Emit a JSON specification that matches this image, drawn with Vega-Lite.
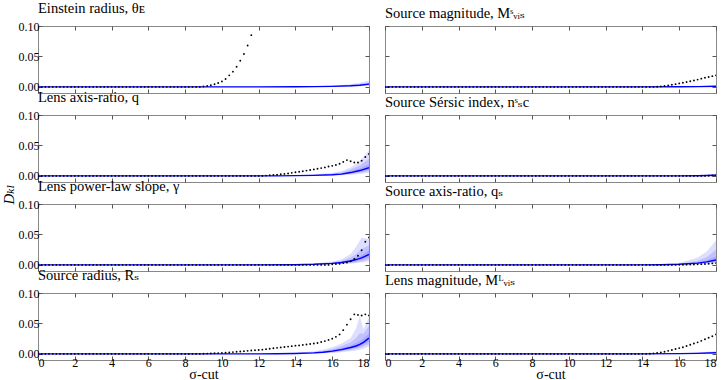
{
"$schema": "https://vega.github.io/schema/vega-lite/v6.json",
"padding": {"left": 0, "top": 0, "right": 0, "bottom": 0},
"background": "white",
"bounds": "flush",
"columns": 2,
"spacing": {"row": 22, "column": 16},
"config": {
  "view": {"stroke": "#888", "strokeWidth": 1},
  "axis": {"labelFont": "Liberation Serif, DejaVu Serif, serif", "labelFontSize": 12, "labelColor": "#000", "tickColor": "#555", "titleFont": "Liberation Serif, DejaVu Serif, serif", "titleFontSize": 14, "titleFontWeight": "normal", "titleColor": "#000", "grid": false},
  "title": {"font": "Liberation Serif, DejaVu Serif, serif", "fontSize": 14.5, "fontWeight": "normal", "anchor": "start", "frame": "group", "offset": 0, "color": "#000"}
},
"datasets": {
"d1": [{"x":0,"d":0},{"x":0.2,"d":0},{"x":0.4,"d":0},{"x":0.6,"d":0},{"x":0.8,"d":0},{"x":1,"d":0},{"x":1.2,"d":0},{"x":1.4,"d":0},{"x":1.6,"d":0},{"x":1.8,"d":0},{"x":2,"d":0},{"x":2.2,"d":0},{"x":2.4,"d":0},{"x":2.6,"d":0},{"x":2.8,"d":0},{"x":3,"d":0},{"x":3.2,"d":0},{"x":3.4,"d":0},{"x":3.6,"d":0},{"x":3.8,"d":0},{"x":4,"d":0},{"x":4.2,"d":0},{"x":4.4,"d":0},{"x":4.6,"d":0},{"x":4.8,"d":0},{"x":5,"d":0},{"x":5.2,"d":0},{"x":5.4,"d":0},{"x":5.6,"d":0},{"x":5.8,"d":0},{"x":6,"d":0},{"x":6.2,"d":0},{"x":6.4,"d":0},{"x":6.6,"d":0},{"x":6.8,"d":0},{"x":7,"d":0},{"x":7.2,"d":0},{"x":7.4,"d":0},{"x":7.6,"d":0},{"x":7.8,"d":0},{"x":8,"d":0},{"x":8.2,"d":0},{"x":8.4,"d":0},{"x":8.6,"d":0},{"x":8.8,"d":0},{"x":9,"d":0.0006},{"x":9.2,"d":0.0016},{"x":9.4,"d":0.0027},{"x":9.6,"d":0.0043},{"x":9.8,"d":0.0064},{"x":10,"d":0.009},{"x":10.2,"d":0.013},{"x":10.4,"d":0.019},{"x":10.6,"d":0.025},{"x":10.8,"d":0.033},{"x":11,"d":0.043},{"x":11.2,"d":0.054},{"x":11.4,"d":0.068},{"x":11.6,"d":0.085}],
"d2": [{"x":0,"d":0},{"x":0.2,"d":0},{"x":0.4,"d":0},{"x":0.6,"d":0},{"x":0.8,"d":0},{"x":1,"d":0},{"x":1.2,"d":0},{"x":1.4,"d":0},{"x":1.6,"d":0},{"x":1.8,"d":0},{"x":2,"d":0},{"x":2.2,"d":0},{"x":2.4,"d":0},{"x":2.6,"d":0},{"x":2.8,"d":0},{"x":3,"d":0},{"x":3.2,"d":0},{"x":3.4,"d":0},{"x":3.6,"d":0},{"x":3.8,"d":0},{"x":4,"d":0},{"x":4.2,"d":0},{"x":4.4,"d":0},{"x":4.6,"d":0},{"x":4.8,"d":0},{"x":5,"d":0},{"x":5.2,"d":0},{"x":5.4,"d":0},{"x":5.6,"d":0},{"x":5.8,"d":0},{"x":6,"d":0},{"x":6.2,"d":0},{"x":6.4,"d":0},{"x":6.6,"d":0},{"x":6.8,"d":0},{"x":7,"d":0},{"x":7.2,"d":0},{"x":7.4,"d":0},{"x":7.6,"d":0},{"x":7.8,"d":0},{"x":8,"d":0},{"x":8.2,"d":0},{"x":8.4,"d":0},{"x":8.6,"d":0},{"x":8.8,"d":0},{"x":9,"d":0},{"x":9.2,"d":0},{"x":9.4,"d":0},{"x":9.6,"d":0},{"x":9.8,"d":0},{"x":10,"d":0},{"x":10.2,"d":0},{"x":10.4,"d":0},{"x":10.6,"d":0},{"x":10.8,"d":0},{"x":11,"d":0},{"x":11.2,"d":0},{"x":11.4,"d":0},{"x":11.6,"d":0},{"x":11.8,"d":0},{"x":12,"d":0},{"x":12.2,"d":0},{"x":12.4,"d":0},{"x":12.6,"d":0},{"x":12.8,"d":0},{"x":13,"d":0},{"x":13.2,"d":0},{"x":13.4,"d":0},{"x":13.6,"d":0},{"x":13.8,"d":0},{"x":14,"d":0},{"x":14.2,"d":0},{"x":14.4,"d":0},{"x":14.6,"d":0},{"x":14.8,"d":0.0003},{"x":15,"d":0.0008},{"x":15.2,"d":0.0015},{"x":15.4,"d":0.0025},{"x":15.6,"d":0.0035},{"x":15.8,"d":0.0045},{"x":16,"d":0.0057},{"x":16.2,"d":0.0068},{"x":16.4,"d":0.008},{"x":16.6,"d":0.0092},{"x":16.8,"d":0.0105},{"x":17,"d":0.012},{"x":17.2,"d":0.0135},{"x":17.4,"d":0.015},{"x":17.6,"d":0.0163},{"x":17.8,"d":0.0177},{"x":18,"d":0.019}],
"d3": [{"x":0,"d":0},{"x":0.2,"d":0},{"x":0.4,"d":0},{"x":0.6,"d":0},{"x":0.8,"d":0},{"x":1,"d":0},{"x":1.2,"d":0},{"x":1.4,"d":0},{"x":1.6,"d":0},{"x":1.8,"d":0},{"x":2,"d":0},{"x":2.2,"d":0},{"x":2.4,"d":0},{"x":2.6,"d":0},{"x":2.8,"d":0},{"x":3,"d":0},{"x":3.2,"d":0},{"x":3.4,"d":0},{"x":3.6,"d":0},{"x":3.8,"d":0},{"x":4,"d":0},{"x":4.2,"d":0},{"x":4.4,"d":0},{"x":4.6,"d":0},{"x":4.8,"d":0},{"x":5,"d":0},{"x":5.2,"d":0},{"x":5.4,"d":0},{"x":5.6,"d":0},{"x":5.8,"d":0},{"x":6,"d":0},{"x":6.2,"d":0},{"x":6.4,"d":0},{"x":6.6,"d":0},{"x":6.8,"d":0},{"x":7,"d":0},{"x":7.2,"d":0},{"x":7.4,"d":0},{"x":7.6,"d":0},{"x":7.8,"d":0},{"x":8,"d":0},{"x":8.2,"d":0},{"x":8.4,"d":0},{"x":8.6,"d":0},{"x":8.8,"d":0},{"x":9,"d":0},{"x":9.2,"d":0},{"x":9.4,"d":0},{"x":9.6,"d":0},{"x":9.8,"d":0},{"x":10,"d":0},{"x":10.2,"d":0},{"x":10.4,"d":0},{"x":10.6,"d":0},{"x":10.8,"d":0},{"x":11,"d":0},{"x":11.2,"d":0},{"x":11.4,"d":0},{"x":11.6,"d":0},{"x":11.8,"d":0},{"x":12,"d":0},{"x":12.2,"d":0},{"x":12.4,"d":0.0005},{"x":12.6,"d":0.001},{"x":12.8,"d":0.0015},{"x":13,"d":0.002},{"x":13.2,"d":0.0027},{"x":13.4,"d":0.0033},{"x":13.6,"d":0.004},{"x":13.8,"d":0.005},{"x":14,"d":0.006},{"x":14.2,"d":0.0068},{"x":14.4,"d":0.0077},{"x":14.6,"d":0.0087},{"x":14.8,"d":0.0097},{"x":15,"d":0.0107},{"x":15.2,"d":0.0117},{"x":15.4,"d":0.0128},{"x":15.6,"d":0.014},{"x":15.8,"d":0.0155},{"x":16,"d":0.0165},{"x":16.2,"d":0.018},{"x":16.4,"d":0.02},{"x":16.6,"d":0.023},{"x":16.8,"d":0.026},{"x":17,"d":0.024},{"x":17.2,"d":0.022},{"x":17.4,"d":0.022},{"x":17.6,"d":0.025},{"x":17.8,"d":0.031},{"x":18,"d":0.036}],
"d4": [{"x":0,"d":0},{"x":0.2,"d":0},{"x":0.4,"d":0},{"x":0.6,"d":0},{"x":0.8,"d":0},{"x":1,"d":0},{"x":1.2,"d":0},{"x":1.4,"d":0},{"x":1.6,"d":0},{"x":1.8,"d":0},{"x":2,"d":0},{"x":2.2,"d":0},{"x":2.4,"d":0},{"x":2.6,"d":0},{"x":2.8,"d":0},{"x":3,"d":0},{"x":3.2,"d":0},{"x":3.4,"d":0},{"x":3.6,"d":0},{"x":3.8,"d":0},{"x":4,"d":0},{"x":4.2,"d":0},{"x":4.4,"d":0},{"x":4.6,"d":0},{"x":4.8,"d":0},{"x":5,"d":0},{"x":5.2,"d":0},{"x":5.4,"d":0},{"x":5.6,"d":0},{"x":5.8,"d":0},{"x":6,"d":0},{"x":6.2,"d":0},{"x":6.4,"d":0},{"x":6.6,"d":0},{"x":6.8,"d":0},{"x":7,"d":0},{"x":7.2,"d":0},{"x":7.4,"d":0},{"x":7.6,"d":0},{"x":7.8,"d":0},{"x":8,"d":0},{"x":8.2,"d":0},{"x":8.4,"d":0},{"x":8.6,"d":0},{"x":8.8,"d":0},{"x":9,"d":0},{"x":9.2,"d":0},{"x":9.4,"d":0},{"x":9.6,"d":0},{"x":9.8,"d":0},{"x":10,"d":0},{"x":10.2,"d":0},{"x":10.4,"d":0},{"x":10.6,"d":0},{"x":10.8,"d":0},{"x":11,"d":0},{"x":11.2,"d":0},{"x":11.4,"d":0},{"x":11.6,"d":0},{"x":11.8,"d":0},{"x":12,"d":0},{"x":12.2,"d":0},{"x":12.4,"d":0},{"x":12.6,"d":0},{"x":12.8,"d":0},{"x":13,"d":0},{"x":13.2,"d":0},{"x":13.4,"d":0},{"x":13.6,"d":0},{"x":13.8,"d":0},{"x":14,"d":0},{"x":14.2,"d":0},{"x":14.4,"d":0},{"x":14.6,"d":0},{"x":14.8,"d":0},{"x":15,"d":0},{"x":15.2,"d":0},{"x":15.4,"d":0},{"x":15.6,"d":0},{"x":15.8,"d":0},{"x":16,"d":0},{"x":16.2,"d":0},{"x":16.4,"d":0},{"x":16.6,"d":0},{"x":16.8,"d":0},{"x":17,"d":0},{"x":17.2,"d":0},{"x":17.4,"d":0},{"x":17.6,"d":0.0003},{"x":17.8,"d":0.0006},{"x":18,"d":0.001}],
"d5": [{"x":0,"d":0},{"x":0.2,"d":0},{"x":0.4,"d":0},{"x":0.6,"d":0},{"x":0.8,"d":0},{"x":1,"d":0},{"x":1.2,"d":0},{"x":1.4,"d":0},{"x":1.6,"d":0},{"x":1.8,"d":0},{"x":2,"d":0},{"x":2.2,"d":0},{"x":2.4,"d":0},{"x":2.6,"d":0},{"x":2.8,"d":0},{"x":3,"d":0},{"x":3.2,"d":0},{"x":3.4,"d":0},{"x":3.6,"d":0},{"x":3.8,"d":0},{"x":4,"d":0},{"x":4.2,"d":0},{"x":4.4,"d":0},{"x":4.6,"d":0},{"x":4.8,"d":0},{"x":5,"d":0},{"x":5.2,"d":0},{"x":5.4,"d":0},{"x":5.6,"d":0},{"x":5.8,"d":0},{"x":6,"d":0},{"x":6.2,"d":0},{"x":6.4,"d":0},{"x":6.6,"d":0},{"x":6.8,"d":0},{"x":7,"d":0},{"x":7.2,"d":0},{"x":7.4,"d":0},{"x":7.6,"d":0},{"x":7.8,"d":0},{"x":8,"d":0},{"x":8.2,"d":0},{"x":8.4,"d":0},{"x":8.6,"d":0},{"x":8.8,"d":0},{"x":9,"d":0},{"x":9.2,"d":0},{"x":9.4,"d":0},{"x":9.6,"d":0},{"x":9.8,"d":0},{"x":10,"d":0},{"x":10.2,"d":0},{"x":10.4,"d":0},{"x":10.6,"d":0},{"x":10.8,"d":0},{"x":11,"d":0},{"x":11.2,"d":0},{"x":11.4,"d":0},{"x":11.6,"d":0},{"x":11.8,"d":0},{"x":12,"d":0},{"x":12.2,"d":0},{"x":12.4,"d":0},{"x":12.6,"d":0},{"x":12.8,"d":0},{"x":13,"d":0},{"x":13.2,"d":0},{"x":13.4,"d":0},{"x":13.6,"d":0},{"x":13.8,"d":0},{"x":14,"d":0},{"x":14.2,"d":0},{"x":14.4,"d":0},{"x":14.6,"d":0},{"x":14.8,"d":0},{"x":15,"d":0},{"x":15.2,"d":0},{"x":15.4,"d":0},{"x":15.6,"d":0},{"x":15.8,"d":0},{"x":16,"d":0.001},{"x":16.2,"d":0.0015},{"x":16.4,"d":0.002},{"x":16.6,"d":0.003},{"x":16.8,"d":0.004},{"x":17,"d":0.006},{"x":17.2,"d":0.01},{"x":17.4,"d":0.015},{"x":17.6,"d":0.024},{"x":17.8,"d":0.038},{"x":18,"d":0.045}],
"d6": [{"x":0,"d":0},{"x":0.2,"d":0},{"x":0.4,"d":0},{"x":0.6,"d":0},{"x":0.8,"d":0},{"x":1,"d":0},{"x":1.2,"d":0},{"x":1.4,"d":0},{"x":1.6,"d":0},{"x":1.8,"d":0},{"x":2,"d":0},{"x":2.2,"d":0},{"x":2.4,"d":0},{"x":2.6,"d":0},{"x":2.8,"d":0},{"x":3,"d":0},{"x":3.2,"d":0},{"x":3.4,"d":0},{"x":3.6,"d":0},{"x":3.8,"d":0},{"x":4,"d":0},{"x":4.2,"d":0},{"x":4.4,"d":0},{"x":4.6,"d":0},{"x":4.8,"d":0},{"x":5,"d":0},{"x":5.2,"d":0},{"x":5.4,"d":0},{"x":5.6,"d":0},{"x":5.8,"d":0},{"x":6,"d":0},{"x":6.2,"d":0},{"x":6.4,"d":0},{"x":6.6,"d":0},{"x":6.8,"d":0},{"x":7,"d":0},{"x":7.2,"d":0},{"x":7.4,"d":0},{"x":7.6,"d":0},{"x":7.8,"d":0},{"x":8,"d":0},{"x":8.2,"d":0},{"x":8.4,"d":0},{"x":8.6,"d":0},{"x":8.8,"d":0},{"x":9,"d":0},{"x":9.2,"d":0},{"x":9.4,"d":0},{"x":9.6,"d":0},{"x":9.8,"d":0},{"x":10,"d":0},{"x":10.2,"d":0},{"x":10.4,"d":0},{"x":10.6,"d":0},{"x":10.8,"d":0},{"x":11,"d":0},{"x":11.2,"d":0},{"x":11.4,"d":0},{"x":11.6,"d":0},{"x":11.8,"d":0},{"x":12,"d":0},{"x":12.2,"d":0},{"x":12.4,"d":0},{"x":12.6,"d":0},{"x":12.8,"d":0},{"x":13,"d":0},{"x":13.2,"d":0},{"x":13.4,"d":0},{"x":13.6,"d":0},{"x":13.8,"d":0},{"x":14,"d":0},{"x":14.2,"d":0},{"x":14.4,"d":0},{"x":14.6,"d":0},{"x":14.8,"d":0},{"x":15,"d":0},{"x":15.2,"d":0},{"x":15.4,"d":0},{"x":15.6,"d":0},{"x":15.8,"d":0},{"x":16,"d":0.0002},{"x":16.2,"d":0.0003},{"x":16.4,"d":0.0004},{"x":16.6,"d":0.0005},{"x":16.8,"d":0.0007},{"x":17,"d":0.0009},{"x":17.2,"d":0.0012},{"x":17.4,"d":0.0015},{"x":17.6,"d":0.002},{"x":17.8,"d":0.0025},{"x":18,"d":0.003}],
"d7": [{"x":0,"d":0},{"x":0.2,"d":0},{"x":0.4,"d":0},{"x":0.6,"d":0},{"x":0.8,"d":0},{"x":1,"d":0},{"x":1.2,"d":0},{"x":1.4,"d":0},{"x":1.6,"d":0},{"x":1.8,"d":0},{"x":2,"d":0},{"x":2.2,"d":0},{"x":2.4,"d":0},{"x":2.6,"d":0},{"x":2.8,"d":0},{"x":3,"d":0},{"x":3.2,"d":0},{"x":3.4,"d":0},{"x":3.6,"d":0},{"x":3.8,"d":0},{"x":4,"d":0},{"x":4.2,"d":0},{"x":4.4,"d":0},{"x":4.6,"d":0},{"x":4.8,"d":0},{"x":5,"d":0},{"x":5.2,"d":0},{"x":5.4,"d":0},{"x":5.6,"d":0},{"x":5.8,"d":0},{"x":6,"d":0},{"x":6.2,"d":0},{"x":6.4,"d":0},{"x":6.6,"d":0},{"x":6.8,"d":0},{"x":7,"d":0},{"x":7.2,"d":0},{"x":7.4,"d":0},{"x":7.6,"d":0},{"x":7.8,"d":0},{"x":8,"d":0},{"x":8.2,"d":0},{"x":8.4,"d":0},{"x":8.6,"d":0},{"x":8.8,"d":0},{"x":9,"d":0.0003},{"x":9.2,"d":0.0005},{"x":9.4,"d":0.0008},{"x":9.6,"d":0.001},{"x":9.8,"d":0.0013},{"x":10,"d":0.0016},{"x":10.2,"d":0.002},{"x":10.4,"d":0.0025},{"x":10.6,"d":0.003},{"x":10.8,"d":0.0035},{"x":11,"d":0.004},{"x":11.2,"d":0.0045},{"x":11.4,"d":0.005},{"x":11.6,"d":0.0055},{"x":11.8,"d":0.006},{"x":12,"d":0.0065},{"x":12.2,"d":0.007},{"x":12.4,"d":0.0078},{"x":12.6,"d":0.0085},{"x":12.8,"d":0.0093},{"x":13,"d":0.01},{"x":13.2,"d":0.0107},{"x":13.4,"d":0.0113},{"x":13.6,"d":0.012},{"x":13.8,"d":0.0127},{"x":14,"d":0.0135},{"x":14.2,"d":0.014},{"x":14.4,"d":0.0148},{"x":14.6,"d":0.0155},{"x":14.8,"d":0.0162},{"x":15,"d":0.017},{"x":15.2,"d":0.018},{"x":15.4,"d":0.0195},{"x":15.6,"d":0.021},{"x":15.8,"d":0.023},{"x":16,"d":0.025},{"x":16.2,"d":0.028},{"x":16.4,"d":0.032},{"x":16.6,"d":0.039},{"x":16.8,"d":0.048},{"x":17,"d":0.057},{"x":17.2,"d":0.065},{"x":17.4,"d":0.064},{"x":17.6,"d":0.063},{"x":17.8,"d":0.065},{"x":18,"d":0.063}],
"d8": [{"x":0,"d":0},{"x":0.2,"d":0},{"x":0.4,"d":0},{"x":0.6,"d":0},{"x":0.8,"d":0},{"x":1,"d":0},{"x":1.2,"d":0},{"x":1.4,"d":0},{"x":1.6,"d":0},{"x":1.8,"d":0},{"x":2,"d":0},{"x":2.2,"d":0},{"x":2.4,"d":0},{"x":2.6,"d":0},{"x":2.8,"d":0},{"x":3,"d":0},{"x":3.2,"d":0},{"x":3.4,"d":0},{"x":3.6,"d":0},{"x":3.8,"d":0},{"x":4,"d":0},{"x":4.2,"d":0},{"x":4.4,"d":0},{"x":4.6,"d":0},{"x":4.8,"d":0},{"x":5,"d":0},{"x":5.2,"d":0},{"x":5.4,"d":0},{"x":5.6,"d":0},{"x":5.8,"d":0},{"x":6,"d":0},{"x":6.2,"d":0},{"x":6.4,"d":0},{"x":6.6,"d":0},{"x":6.8,"d":0},{"x":7,"d":0},{"x":7.2,"d":0},{"x":7.4,"d":0},{"x":7.6,"d":0},{"x":7.8,"d":0},{"x":8,"d":0},{"x":8.2,"d":0},{"x":8.4,"d":0},{"x":8.6,"d":0},{"x":8.8,"d":0},{"x":9,"d":0},{"x":9.2,"d":0},{"x":9.4,"d":0},{"x":9.6,"d":0},{"x":9.8,"d":0},{"x":10,"d":0},{"x":10.2,"d":0},{"x":10.4,"d":0},{"x":10.6,"d":0},{"x":10.8,"d":0},{"x":11,"d":0},{"x":11.2,"d":0},{"x":11.4,"d":0},{"x":11.6,"d":0},{"x":11.8,"d":0},{"x":12,"d":0},{"x":12.2,"d":0},{"x":12.4,"d":0},{"x":12.6,"d":0},{"x":12.8,"d":0},{"x":13,"d":0},{"x":13.2,"d":0},{"x":13.4,"d":0},{"x":13.6,"d":0},{"x":13.8,"d":0},{"x":14,"d":0},{"x":14.2,"d":0},{"x":14.4,"d":0.0003},{"x":14.6,"d":0.0008},{"x":14.8,"d":0.0015},{"x":15,"d":0.0025},{"x":15.2,"d":0.0035},{"x":15.4,"d":0.005},{"x":15.6,"d":0.0065},{"x":15.8,"d":0.008},{"x":16,"d":0.0095},{"x":16.2,"d":0.011},{"x":16.4,"d":0.013},{"x":16.6,"d":0.015},{"x":16.8,"d":0.017},{"x":17,"d":0.019},{"x":17.2,"d":0.0215},{"x":17.4,"d":0.024},{"x":17.6,"d":0.0265},{"x":17.8,"d":0.029},{"x":18,"d":0.032}],
"b1": [{"x":0,"m":0,"a1":0,"b1":0,"a2":0,"b2":0,"a3":0,"b3":0},{"x":12,"m":0,"a1":0,"b1":0.0002,"a2":0,"b2":0.0001,"a3":0,"b3":0.0001},{"x":14,"m":0.0002,"a1":0,"b1":0.0007,"a2":0.0001,"b2":0.0005,"a3":0.0001,"b3":0.0003},{"x":15,"m":0.0004,"a1":0.0001,"b1":0.0012,"a2":0.0002,"b2":0.0009,"a3":0.0003,"b3":0.0006},{"x":16,"m":0.0008,"a1":0.0003,"b1":0.0022,"a2":0.0005,"b2":0.0016,"a3":0.0006,"b3":0.0011},{"x":17,"m":0.0018,"a1":0.0008,"b1":0.0045,"a2":0.0011,"b2":0.0032,"a3":0.0014,"b3":0.0024},{"x":17.5,"m":0.0028,"a1":0.0012,"b1":0.0068,"a2":0.0017,"b2":0.005,"a3":0.0022,"b3":0.0037},{"x":18,"m":0.0045,"a1":0.002,"b1":0.01,"a2":0.0028,"b2":0.0075,"a3":0.0035,"b3":0.0058}],
"b2": [{"x":0,"m":0,"a1":0,"b1":0,"a2":0,"b2":0,"a3":0,"b3":0},{"x":14,"m":0,"a1":0,"b1":0.0002,"a2":0,"b2":0.0001,"a3":0,"b3":0.0001},{"x":16,"m":0.0002,"a1":0,"b1":0.0006,"a2":0.0001,"b2":0.0004,"a3":0.0001,"b3":0.0003},{"x":17,"m":0.0005,"a1":0.0001,"b1":0.0012,"a2":0.0002,"b2":0.0009,"a3":0.0003,"b3":0.0007},{"x":18,"m":0.001,"a1":0.0003,"b1":0.0025,"a2":0.0005,"b2":0.0018,"a3":0.0007,"b3":0.0014}],
"b3": [{"x":0,"m":0,"a1":0,"b1":0,"a2":0,"b2":0,"a3":0,"b3":0},{"x":12,"m":0,"a1":0,"b1":0.0002,"a2":0,"b2":0.0001,"a3":0,"b3":0.0001},{"x":13,"m":0.0001,"a1":0,"b1":0.0005,"a2":0,"b2":0.0003,"a3":0.0001,"b3":0.0002},{"x":14,"m":0.0004,"a1":0.0001,"b1":0.0012,"a2":0.0002,"b2":0.0008,"a3":0.0003,"b3":0.0006},{"x":15,"m":0.0009,"a1":0.0003,"b1":0.0025,"a2":0.0005,"b2":0.0018,"a3":0.0007,"b3":0.0013},{"x":16,"m":0.0018,"a1":0.0006,"b1":0.005,"a2":0.001,"b2":0.0036,"a3":0.0013,"b3":0.0026},{"x":16.5,"m":0.003,"a1":0.001,"b1":0.008,"a2":0.0017,"b2":0.0058,"a3":0.0022,"b3":0.0042},{"x":17,"m":0.0055,"a1":0.002,"b1":0.014,"a2":0.003,"b2":0.0105,"a3":0.004,"b3":0.0075},{"x":17.5,"m":0.0088,"a1":0.003,"b1":0.024,"a2":0.005,"b2":0.017,"a3":0.0065,"b3":0.012},{"x":18,"m":0.0135,"a1":0.005,"b1":0.042,"a2":0.0075,"b2":0.028,"a3":0.0095,"b3":0.019}],
"b4": [{"x":0,"m":0,"a1":0,"b1":0,"a2":0,"b2":0,"a3":0,"b3":0},{"x":16,"m":0,"a1":0,"b1":0.0002,"a2":0,"b2":0.0001,"a3":0,"b3":0.0001},{"x":17,"m":0.0003,"a1":0,"b1":0.001,"a2":0.0001,"b2":0.0007,"a3":0.0002,"b3":0.0005},{"x":18,"m":0.0012,"a1":0.0003,"b1":0.0035,"a2":0.0006,"b2":0.0026,"a3":0.0008,"b3":0.0018}],
"b5": [{"x":0,"m":0,"a1":0,"b1":0,"a2":0,"b2":0,"a3":0,"b3":0},{"x":12,"m":0,"a1":0,"b1":0.0002,"a2":0,"b2":0.0001,"a3":0,"b3":0.0001},{"x":14,"m":0.0003,"a1":0.0001,"b1":0.0009,"a2":0.0001,"b2":0.0006,"a3":0.0002,"b3":0.0004},{"x":15,"m":0.001,"a1":0.0003,"b1":0.0025,"a2":0.0005,"b2":0.0018,"a3":0.0007,"b3":0.0013},{"x":16,"m":0.0026,"a1":0.001,"b1":0.0055,"a2":0.0015,"b2":0.0042,"a3":0.0019,"b3":0.0033},{"x":16.5,"m":0.004,"a1":0.0015,"b1":0.009,"a2":0.0022,"b2":0.0068,"a3":0.003,"b3":0.0052},{"x":17,"m":0.0065,"a1":0.002,"b1":0.018,"a2":0.003,"b2":0.012,"a3":0.0045,"b3":0.0085},{"x":17.3,"m":0.0088,"a1":0.003,"b1":0.03,"a2":0.0042,"b2":0.018,"a3":0.006,"b3":0.012},{"x":17.6,"m":0.0115,"a1":0.004,"b1":0.045,"a2":0.0055,"b2":0.026,"a3":0.0085,"b3":0.016},{"x":18,"m":0.0172,"a1":0.006,"b1":0.042,"a2":0.009,"b2":0.032,"a3":0.012,"b3":0.024}],
"b6": [{"x":0,"m":0,"a1":0,"b1":0,"a2":0,"b2":0,"a3":0,"b3":0},{"x":14,"m":0.0001,"a1":0,"b1":0.0004,"a2":0,"b2":0.0003,"a3":0,"b3":0.0002},{"x":15,"m":0.0003,"a1":0.0001,"b1":0.0012,"a2":0.0001,"b2":0.0008,"a3":0.0002,"b3":0.0005},{"x":16,"m":0.001,"a1":0.0002,"b1":0.003,"a2":0.0004,"b2":0.002,"a3":0.0006,"b3":0.0015},{"x":17,"m":0.003,"a1":0.001,"b1":0.012,"a2":0.0015,"b2":0.007,"a3":0.002,"b3":0.0045},{"x":17.5,"m":0.005,"a1":0.002,"b1":0.022,"a2":0.003,"b2":0.013,"a3":0.0035,"b3":0.0075},{"x":18,"m":0.008,"a1":0.003,"b1":0.04,"a2":0.004,"b2":0.025,"a3":0.0055,"b3":0.014}],
"b7": [{"x":0,"m":0,"a1":0,"b1":0,"a2":0,"b2":0,"a3":0,"b3":0},{"x":11,"m":0,"a1":0,"b1":0.0002,"a2":0,"b2":0.0001,"a3":0,"b3":0.0001},{"x":12,"m":0.0001,"a1":0,"b1":0.0004,"a2":0,"b2":0.0003,"a3":0,"b3":0.0002},{"x":13,"m":0.0003,"a1":0.0001,"b1":0.0009,"a2":0.0001,"b2":0.0006,"a3":0.0002,"b3":0.0004},{"x":14,"m":0.0007,"a1":0.0002,"b1":0.0018,"a2":0.0004,"b2":0.0013,"a3":0.0005,"b3":0.001},{"x":15,"m":0.0017,"a1":0.0005,"b1":0.0045,"a2":0.0009,"b2":0.0032,"a3":0.0012,"b3":0.0024},{"x":15.5,"m":0.0027,"a1":0.0009,"b1":0.007,"a2":0.0014,"b2":0.005,"a3":0.0019,"b3":0.0037},{"x":16,"m":0.0045,"a1":0.0015,"b1":0.011,"a2":0.0024,"b2":0.0082,"a3":0.0032,"b3":0.0062},{"x":16.5,"m":0.007,"a1":0.0028,"b1":0.017,"a2":0.0042,"b2":0.0125,"a3":0.0053,"b3":0.0095},{"x":17,"m":0.0105,"a1":0.0045,"b1":0.026,"a2":0.0065,"b2":0.019,"a3":0.008,"b3":0.014},{"x":17.3,"m":0.013,"a1":0.0058,"b1":0.042,"a2":0.0082,"b2":0.026,"a3":0.01,"b3":0.018},{"x":17.5,"m":0.0155,"a1":0.007,"b1":0.063,"a2":0.0095,"b2":0.034,"a3":0.012,"b3":0.021},{"x":17.7,"m":0.019,"a1":0.0085,"b1":0.04,"a2":0.012,"b2":0.033,"a3":0.015,"b3":0.025},{"x":18,"m":0.026,"a1":0.012,"b1":0.06,"a2":0.016,"b2":0.046,"a3":0.02,"b3":0.034}],
"b8": [{"x":0,"m":0,"a1":0,"b1":0,"a2":0,"b2":0,"a3":0,"b3":0},{"x":14,"m":0,"a1":0,"b1":0.0003,"a2":0,"b2":0.0002,"a3":0,"b3":0.0001},{"x":16,"m":0.0004,"a1":0.0001,"b1":0.0012,"a2":0.0002,"b2":0.0008,"a3":0.0003,"b3":0.0006},{"x":17,"m":0.0009,"a1":0.0003,"b1":0.0025,"a2":0.0005,"b2":0.0018,"a3":0.0007,"b3":0.0013},{"x":18,"m":0.002,"a1":0.0007,"b1":0.0045,"a2":0.001,"b2":0.0034,"a3":0.0014,"b3":0.0027}]
},
"concat": [
 {"title": {"text": "Einstein radius, θᴇ", "font": "Liberation Serif, DejaVu Serif, serif", "fontWeight": "normal", "fontSize": 14.5}, "width": 331, "height": 67,
  "encoding": {"x": {"field": "x", "type": "quantitative", "scale": {"domain": [0, 18], "nice": false}, "axis": null}},
  "layer": [
   {"data": {"name": "b1"}, "mark": {"type": "area", "color": "#0000ff", "opacity": 0.13, "clip": true},
    "encoding": {"x": {"field": "x", "type": "quantitative", "scale": {"domain": [0, 18], "nice": false}, "axis": {"orient": "bottom", "values": [0,2,4,6,8,10,12,14,16,18], "labels": false, "title": null, "tickSize": -4, "domain": false}},
     "y": {"field": "a1", "type": "quantitative", "scale": {"domain": [-0.01, 0.1], "nice": false}, "axis": {"orient": "left", "values": [0, 0.05, 0.1], "format": ".2f", "title": null, "tickSize": -4, "domain": false, "labelPadding": 3, "minExtent": 22}}, "y2": {"field": "b1"}}},
   {"data": {"name": "b1"}, "mark": {"type": "area", "color": "#0000ff", "opacity": 0.13, "clip": true}, "encoding": {"y": {"field": "a2", "type": "quantitative", "scale": {"domain": [-0.01, 0.1], "nice": false}, "axis": null}, "y2": {"field": "b2"}}},
   {"data": {"name": "b1"}, "mark": {"type": "area", "color": "#0000ff", "opacity": 0.13, "clip": true}, "encoding": {"y": {"field": "a3", "type": "quantitative", "scale": {"domain": [-0.01, 0.1], "nice": false}, "axis": null}, "y2": {"field": "b3"}}},
   {"data": {"name": "b1"}, "mark": {"type": "line", "color": "#0000ff", "strokeWidth": 1.4, "clip": true},
    "encoding": {"x": {"field": "x", "type": "quantitative", "scale": {"domain": [0, 18], "nice": false}, "axis": {"orient": "top", "values": [0,2,4,6,8,10,12,14,16,18], "labels": false, "title": null, "tickSize": -4, "domain": false}},
     "y": {"field": "m", "type": "quantitative", "scale": {"domain": [-0.01, 0.1], "nice": false}, "axis": {"orient": "right", "values": [0, 0.05, 0.1], "labels": false, "title": null, "tickSize": -4, "domain": false}}}},
   {"data": {"name": "d1"}, "mark": {"type": "circle", "size": 3.5, "color": "#000", "opacity": 1, "clip": true}, "encoding": {"y": {"field": "d", "type": "quantitative", "scale": {"domain": [-0.01, 0.1], "nice": false}, "axis": null}}}
  ],
  "resolve": {"axis": {"x": "independent", "y": "independent"}}},
 {"title": {"text": "Source magnitude, Mˢᵥᵢₛ", "font": "Liberation Serif, DejaVu Serif, serif", "fontWeight": "normal", "fontSize": 14.5}, "width": 331, "height": 67,
  "encoding": {"x": {"field": "x", "type": "quantitative", "scale": {"domain": [0, 18], "nice": false}, "axis": null}},
  "layer": [
   {"data": {"name": "b2"}, "mark": {"type": "area", "color": "#0000ff", "opacity": 0.13, "clip": true},
    "encoding": {"x": {"field": "x", "type": "quantitative", "scale": {"domain": [0, 18], "nice": false}, "axis": {"orient": "bottom", "values": [0,2,4,6,8,10,12,14,16,18], "labels": false, "title": null, "tickSize": -4, "domain": false}},
     "y": {"field": "a1", "type": "quantitative", "scale": {"domain": [-0.01, 0.1], "nice": false}, "axis": {"orient": "left", "values": [0, 0.05, 0.1], "labels": false, "title": null, "tickSize": -4, "domain": false}}, "y2": {"field": "b1"}}},
   {"data": {"name": "b2"}, "mark": {"type": "area", "color": "#0000ff", "opacity": 0.13, "clip": true}, "encoding": {"y": {"field": "a2", "type": "quantitative", "scale": {"domain": [-0.01, 0.1], "nice": false}, "axis": null}, "y2": {"field": "b2"}}},
   {"data": {"name": "b2"}, "mark": {"type": "area", "color": "#0000ff", "opacity": 0.13, "clip": true}, "encoding": {"y": {"field": "a3", "type": "quantitative", "scale": {"domain": [-0.01, 0.1], "nice": false}, "axis": null}, "y2": {"field": "b3"}}},
   {"data": {"name": "b2"}, "mark": {"type": "line", "color": "#0000ff", "strokeWidth": 1.4, "clip": true},
    "encoding": {"x": {"field": "x", "type": "quantitative", "scale": {"domain": [0, 18], "nice": false}, "axis": {"orient": "top", "values": [0,2,4,6,8,10,12,14,16,18], "labels": false, "title": null, "tickSize": -4, "domain": false}},
     "y": {"field": "m", "type": "quantitative", "scale": {"domain": [-0.01, 0.1], "nice": false}, "axis": {"orient": "right", "values": [0, 0.05, 0.1], "labels": false, "title": null, "tickSize": -4, "domain": false}}}},
   {"data": {"name": "d2"}, "mark": {"type": "circle", "size": 3.5, "color": "#000", "opacity": 1, "clip": true}, "encoding": {"y": {"field": "d", "type": "quantitative", "scale": {"domain": [-0.01, 0.1], "nice": false}, "axis": null}}}
  ],
  "resolve": {"axis": {"x": "independent", "y": "independent"}}},
 {"title": {"text": "Lens axis-ratio, q", "font": "Liberation Serif, DejaVu Serif, serif", "fontWeight": "normal", "fontSize": 14.5}, "width": 331, "height": 67,
  "encoding": {"x": {"field": "x", "type": "quantitative", "scale": {"domain": [0, 18], "nice": false}, "axis": null}},
  "layer": [
   {"data": {"name": "b3"}, "mark": {"type": "area", "color": "#0000ff", "opacity": 0.13, "clip": true},
    "encoding": {"x": {"field": "x", "type": "quantitative", "scale": {"domain": [0, 18], "nice": false}, "axis": {"orient": "bottom", "values": [0,2,4,6,8,10,12,14,16,18], "labels": false, "title": null, "tickSize": -4, "domain": false}},
     "y": {"field": "a1", "type": "quantitative", "scale": {"domain": [-0.01, 0.1], "nice": false}, "axis": {"orient": "left", "values": [0, 0.05, 0.1], "format": ".2f", "title": "Dₖₗ", "titleFontStyle": "italic", "titleFontSize": 15, "titleY": 79, "titlePadding": 0, "tickSize": -4, "domain": false, "labelPadding": 3, "minExtent": 22}}, "y2": {"field": "b1"}}},
   {"data": {"name": "b3"}, "mark": {"type": "area", "color": "#0000ff", "opacity": 0.13, "clip": true}, "encoding": {"y": {"field": "a2", "type": "quantitative", "scale": {"domain": [-0.01, 0.1], "nice": false}, "axis": null}, "y2": {"field": "b2"}}},
   {"data": {"name": "b3"}, "mark": {"type": "area", "color": "#0000ff", "opacity": 0.13, "clip": true}, "encoding": {"y": {"field": "a3", "type": "quantitative", "scale": {"domain": [-0.01, 0.1], "nice": false}, "axis": null}, "y2": {"field": "b3"}}},
   {"data": {"name": "b3"}, "mark": {"type": "line", "color": "#0000ff", "strokeWidth": 1.4, "clip": true},
    "encoding": {"x": {"field": "x", "type": "quantitative", "scale": {"domain": [0, 18], "nice": false}, "axis": {"orient": "top", "values": [0,2,4,6,8,10,12,14,16,18], "labels": false, "title": null, "tickSize": -4, "domain": false}},
     "y": {"field": "m", "type": "quantitative", "scale": {"domain": [-0.01, 0.1], "nice": false}, "axis": {"orient": "right", "values": [0, 0.05, 0.1], "labels": false, "title": null, "tickSize": -4, "domain": false}}}},
   {"data": {"name": "d3"}, "mark": {"type": "circle", "size": 3.5, "color": "#000", "opacity": 1, "clip": true}, "encoding": {"y": {"field": "d", "type": "quantitative", "scale": {"domain": [-0.01, 0.1], "nice": false}, "axis": null}}}
  ],
  "resolve": {"axis": {"x": "independent", "y": "independent"}}},
 {"title": {"text": "Source Sérsic index, nˢₛc", "font": "Liberation Serif, DejaVu Serif, serif", "fontWeight": "normal", "fontSize": 14.5}, "width": 331, "height": 67,
  "encoding": {"x": {"field": "x", "type": "quantitative", "scale": {"domain": [0, 18], "nice": false}, "axis": null}},
  "layer": [
   {"data": {"name": "b4"}, "mark": {"type": "area", "color": "#0000ff", "opacity": 0.13, "clip": true},
    "encoding": {"x": {"field": "x", "type": "quantitative", "scale": {"domain": [0, 18], "nice": false}, "axis": {"orient": "bottom", "values": [0,2,4,6,8,10,12,14,16,18], "labels": false, "title": null, "tickSize": -4, "domain": false}},
     "y": {"field": "a1", "type": "quantitative", "scale": {"domain": [-0.01, 0.1], "nice": false}, "axis": {"orient": "left", "values": [0, 0.05, 0.1], "labels": false, "title": null, "tickSize": -4, "domain": false}}, "y2": {"field": "b1"}}},
   {"data": {"name": "b4"}, "mark": {"type": "area", "color": "#0000ff", "opacity": 0.13, "clip": true}, "encoding": {"y": {"field": "a2", "type": "quantitative", "scale": {"domain": [-0.01, 0.1], "nice": false}, "axis": null}, "y2": {"field": "b2"}}},
   {"data": {"name": "b4"}, "mark": {"type": "area", "color": "#0000ff", "opacity": 0.13, "clip": true}, "encoding": {"y": {"field": "a3", "type": "quantitative", "scale": {"domain": [-0.01, 0.1], "nice": false}, "axis": null}, "y2": {"field": "b3"}}},
   {"data": {"name": "b4"}, "mark": {"type": "line", "color": "#0000ff", "strokeWidth": 1.4, "clip": true},
    "encoding": {"x": {"field": "x", "type": "quantitative", "scale": {"domain": [0, 18], "nice": false}, "axis": {"orient": "top", "values": [0,2,4,6,8,10,12,14,16,18], "labels": false, "title": null, "tickSize": -4, "domain": false}},
     "y": {"field": "m", "type": "quantitative", "scale": {"domain": [-0.01, 0.1], "nice": false}, "axis": {"orient": "right", "values": [0, 0.05, 0.1], "labels": false, "title": null, "tickSize": -4, "domain": false}}}},
   {"data": {"name": "d4"}, "mark": {"type": "circle", "size": 3.5, "color": "#000", "opacity": 1, "clip": true}, "encoding": {"y": {"field": "d", "type": "quantitative", "scale": {"domain": [-0.01, 0.1], "nice": false}, "axis": null}}}
  ],
  "resolve": {"axis": {"x": "independent", "y": "independent"}}},
 {"title": {"text": "Lens power-law slope, γ", "font": "Liberation Serif, DejaVu Serif, serif", "fontWeight": "normal", "fontSize": 14.5}, "width": 331, "height": 67,
  "encoding": {"x": {"field": "x", "type": "quantitative", "scale": {"domain": [0, 18], "nice": false}, "axis": null}},
  "layer": [
   {"data": {"name": "b5"}, "mark": {"type": "area", "color": "#0000ff", "opacity": 0.13, "clip": true},
    "encoding": {"x": {"field": "x", "type": "quantitative", "scale": {"domain": [0, 18], "nice": false}, "axis": {"orient": "bottom", "values": [0,2,4,6,8,10,12,14,16,18], "labels": false, "title": null, "tickSize": -4, "domain": false}},
     "y": {"field": "a1", "type": "quantitative", "scale": {"domain": [-0.01, 0.1], "nice": false}, "axis": {"orient": "left", "values": [0, 0.05, 0.1], "format": ".2f", "title": null, "tickSize": -4, "domain": false, "labelPadding": 3, "minExtent": 22}}, "y2": {"field": "b1"}}},
   {"data": {"name": "b5"}, "mark": {"type": "area", "color": "#0000ff", "opacity": 0.13, "clip": true}, "encoding": {"y": {"field": "a2", "type": "quantitative", "scale": {"domain": [-0.01, 0.1], "nice": false}, "axis": null}, "y2": {"field": "b2"}}},
   {"data": {"name": "b5"}, "mark": {"type": "area", "color": "#0000ff", "opacity": 0.13, "clip": true}, "encoding": {"y": {"field": "a3", "type": "quantitative", "scale": {"domain": [-0.01, 0.1], "nice": false}, "axis": null}, "y2": {"field": "b3"}}},
   {"data": {"name": "b5"}, "mark": {"type": "line", "color": "#0000ff", "strokeWidth": 1.4, "clip": true},
    "encoding": {"x": {"field": "x", "type": "quantitative", "scale": {"domain": [0, 18], "nice": false}, "axis": {"orient": "top", "values": [0,2,4,6,8,10,12,14,16,18], "labels": false, "title": null, "tickSize": -4, "domain": false}},
     "y": {"field": "m", "type": "quantitative", "scale": {"domain": [-0.01, 0.1], "nice": false}, "axis": {"orient": "right", "values": [0, 0.05, 0.1], "labels": false, "title": null, "tickSize": -4, "domain": false}}}},
   {"data": {"name": "d5"}, "mark": {"type": "circle", "size": 3.5, "color": "#000", "opacity": 1, "clip": true}, "encoding": {"y": {"field": "d", "type": "quantitative", "scale": {"domain": [-0.01, 0.1], "nice": false}, "axis": null}}}
  ],
  "resolve": {"axis": {"x": "independent", "y": "independent"}}},
 {"title": {"text": "Source axis-ratio, qₛ", "font": "Liberation Serif, DejaVu Serif, serif", "fontWeight": "normal", "fontSize": 14.5}, "width": 331, "height": 67,
  "encoding": {"x": {"field": "x", "type": "quantitative", "scale": {"domain": [0, 18], "nice": false}, "axis": null}},
  "layer": [
   {"data": {"name": "b6"}, "mark": {"type": "area", "color": "#0000ff", "opacity": 0.13, "clip": true},
    "encoding": {"x": {"field": "x", "type": "quantitative", "scale": {"domain": [0, 18], "nice": false}, "axis": {"orient": "bottom", "values": [0,2,4,6,8,10,12,14,16,18], "labels": false, "title": null, "tickSize": -4, "domain": false}},
     "y": {"field": "a1", "type": "quantitative", "scale": {"domain": [-0.01, 0.1], "nice": false}, "axis": {"orient": "left", "values": [0, 0.05, 0.1], "labels": false, "title": null, "tickSize": -4, "domain": false}}, "y2": {"field": "b1"}}},
   {"data": {"name": "b6"}, "mark": {"type": "area", "color": "#0000ff", "opacity": 0.13, "clip": true}, "encoding": {"y": {"field": "a2", "type": "quantitative", "scale": {"domain": [-0.01, 0.1], "nice": false}, "axis": null}, "y2": {"field": "b2"}}},
   {"data": {"name": "b6"}, "mark": {"type": "area", "color": "#0000ff", "opacity": 0.13, "clip": true}, "encoding": {"y": {"field": "a3", "type": "quantitative", "scale": {"domain": [-0.01, 0.1], "nice": false}, "axis": null}, "y2": {"field": "b3"}}},
   {"data": {"name": "b6"}, "mark": {"type": "line", "color": "#0000ff", "strokeWidth": 1.4, "clip": true},
    "encoding": {"x": {"field": "x", "type": "quantitative", "scale": {"domain": [0, 18], "nice": false}, "axis": {"orient": "top", "values": [0,2,4,6,8,10,12,14,16,18], "labels": false, "title": null, "tickSize": -4, "domain": false}},
     "y": {"field": "m", "type": "quantitative", "scale": {"domain": [-0.01, 0.1], "nice": false}, "axis": {"orient": "right", "values": [0, 0.05, 0.1], "labels": false, "title": null, "tickSize": -4, "domain": false}}}},
   {"data": {"name": "d6"}, "mark": {"type": "circle", "size": 3.5, "color": "#000", "opacity": 1, "clip": true}, "encoding": {"y": {"field": "d", "type": "quantitative", "scale": {"domain": [-0.01, 0.1], "nice": false}, "axis": null}}}
  ],
  "resolve": {"axis": {"x": "independent", "y": "independent"}}},
 {"title": {"text": "Source radius, Rₛ", "font": "Liberation Serif, DejaVu Serif, serif", "fontWeight": "normal", "fontSize": 14.5}, "width": 331, "height": 67,
  "encoding": {"x": {"field": "x", "type": "quantitative", "scale": {"domain": [0, 18], "nice": false}, "axis": null}},
  "layer": [
   {"data": {"name": "b7"}, "mark": {"type": "area", "color": "#0000ff", "opacity": 0.13, "clip": true},
    "encoding": {"x": {"field": "x", "type": "quantitative", "scale": {"domain": [0, 18], "nice": false}, "axis": {"orient": "bottom", "values": [0,2,4,6,8,10,12,14,16,18], "format": "d", "title": "σ-cut", "tickSize": -4, "domain": false, "labelPadding": 1, "titlePadding": -1}},
     "y": {"field": "a1", "type": "quantitative", "scale": {"domain": [-0.01, 0.1], "nice": false}, "axis": {"orient": "left", "values": [0, 0.05, 0.1], "format": ".2f", "title": null, "tickSize": -4, "domain": false, "labelPadding": 3, "minExtent": 22}}, "y2": {"field": "b1"}}},
   {"data": {"name": "b7"}, "mark": {"type": "area", "color": "#0000ff", "opacity": 0.13, "clip": true}, "encoding": {"y": {"field": "a2", "type": "quantitative", "scale": {"domain": [-0.01, 0.1], "nice": false}, "axis": null}, "y2": {"field": "b2"}}},
   {"data": {"name": "b7"}, "mark": {"type": "area", "color": "#0000ff", "opacity": 0.13, "clip": true}, "encoding": {"y": {"field": "a3", "type": "quantitative", "scale": {"domain": [-0.01, 0.1], "nice": false}, "axis": null}, "y2": {"field": "b3"}}},
   {"data": {"name": "b7"}, "mark": {"type": "line", "color": "#0000ff", "strokeWidth": 1.4, "clip": true},
    "encoding": {"x": {"field": "x", "type": "quantitative", "scale": {"domain": [0, 18], "nice": false}, "axis": {"orient": "top", "values": [0,2,4,6,8,10,12,14,16,18], "labels": false, "title": null, "tickSize": -4, "domain": false}},
     "y": {"field": "m", "type": "quantitative", "scale": {"domain": [-0.01, 0.1], "nice": false}, "axis": {"orient": "right", "values": [0, 0.05, 0.1], "labels": false, "title": null, "tickSize": -4, "domain": false}}}},
   {"data": {"name": "d7"}, "mark": {"type": "circle", "size": 3.5, "color": "#000", "opacity": 1, "clip": true}, "encoding": {"y": {"field": "d", "type": "quantitative", "scale": {"domain": [-0.01, 0.1], "nice": false}, "axis": null}}}
  ],
  "resolve": {"axis": {"x": "independent", "y": "independent"}}},
 {"title": {"text": "Lens magnitude, Mᴸᵥᵢₛ", "font": "Liberation Serif, DejaVu Serif, serif", "fontWeight": "normal", "fontSize": 14.5}, "width": 331, "height": 67,
  "encoding": {"x": {"field": "x", "type": "quantitative", "scale": {"domain": [0, 18], "nice": false}, "axis": null}},
  "layer": [
   {"data": {"name": "b8"}, "mark": {"type": "area", "color": "#0000ff", "opacity": 0.13, "clip": true},
    "encoding": {"x": {"field": "x", "type": "quantitative", "scale": {"domain": [0, 18], "nice": false}, "axis": {"orient": "bottom", "values": [0,2,4,6,8,10,12,14,16,18], "format": "d", "title": "σ-cut", "tickSize": -4, "domain": false, "labelPadding": 1, "titlePadding": -1}},
     "y": {"field": "a1", "type": "quantitative", "scale": {"domain": [-0.01, 0.1], "nice": false}, "axis": {"orient": "left", "values": [0, 0.05, 0.1], "labels": false, "title": null, "tickSize": -4, "domain": false}}, "y2": {"field": "b1"}}},
   {"data": {"name": "b8"}, "mark": {"type": "area", "color": "#0000ff", "opacity": 0.13, "clip": true}, "encoding": {"y": {"field": "a2", "type": "quantitative", "scale": {"domain": [-0.01, 0.1], "nice": false}, "axis": null}, "y2": {"field": "b2"}}},
   {"data": {"name": "b8"}, "mark": {"type": "area", "color": "#0000ff", "opacity": 0.13, "clip": true}, "encoding": {"y": {"field": "a3", "type": "quantitative", "scale": {"domain": [-0.01, 0.1], "nice": false}, "axis": null}, "y2": {"field": "b3"}}},
   {"data": {"name": "b8"}, "mark": {"type": "line", "color": "#0000ff", "strokeWidth": 1.4, "clip": true},
    "encoding": {"x": {"field": "x", "type": "quantitative", "scale": {"domain": [0, 18], "nice": false}, "axis": {"orient": "top", "values": [0,2,4,6,8,10,12,14,16,18], "labels": false, "title": null, "tickSize": -4, "domain": false}},
     "y": {"field": "m", "type": "quantitative", "scale": {"domain": [-0.01, 0.1], "nice": false}, "axis": {"orient": "right", "values": [0, 0.05, 0.1], "labels": false, "title": null, "tickSize": -4, "domain": false}}}},
   {"data": {"name": "d8"}, "mark": {"type": "circle", "size": 3.5, "color": "#000", "opacity": 1, "clip": true}, "encoding": {"y": {"field": "d", "type": "quantitative", "scale": {"domain": [-0.01, 0.1], "nice": false}, "axis": null}}}
  ],
  "resolve": {"axis": {"x": "independent", "y": "independent"}}}
]
}
